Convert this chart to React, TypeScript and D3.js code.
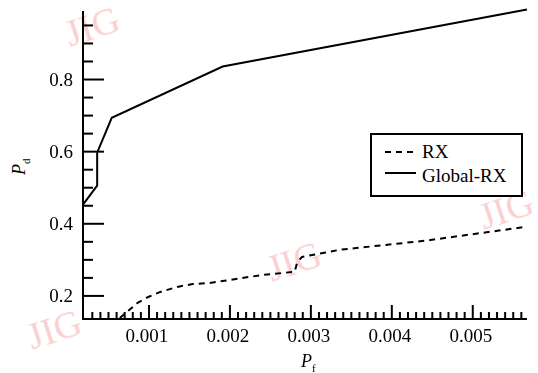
import React from "react";
import * as d3 from "d3";

// Pf (x) / Pd (y)
const rxPf = [0.00064, 0.00073, 0.00086, 0.00099, 0.00114, 0.00135, 0.00154, 0.00175, 0.0024, 0.0028, 0.00283, 0.00289, 0.00336, 0.00441, 0.00567];
const rxPd = [0.139, 0.156, 0.181, 0.197, 0.211, 0.225, 0.233, 0.236, 0.258, 0.267, 0.292, 0.308, 0.328, 0.353, 0.392];
const globalPf = [0.000185, 0.00036, 0.00036, 0.00054, 0.00191, 0.00567];
const globalPd = [0.453, 0.506, 0.597, 0.694, 0.836, 0.994];

const xMajor = [0.001, 0.002, 0.003, 0.004, 0.005];
const yMajor = [0.2, 0.4, 0.6, 0.8];
const xMinor = d3.range(3, 57).map((i) => i / 10000).filter((v) => Math.round(v * 10000) % 10 !== 0);
const yMinor = [0.25, 0.3, 0.35, 0.45, 0.5, 0.55, 0.65, 0.7, 0.75, 0.85, 0.9, 0.95];

const legendItems = [
  { name: "RX", dash: "6,5" },
  { name: "Global-RX", dash: null },
];

const W = 538, H = 373;
const left = 83, right = 527, top = 11, bottom = 319;
const font = "Liberation Serif";

export default function App() {
  const x = d3.scaleLinear().domain([0.000185, 0.00567]).range([left, right]);
  const y = d3.scaleLinear().domain([0.136, 0.99]).range([bottom, top]);
  const line = d3
    .line<[number, number]>()
    .x((d) => x(d[0]))
    .y((d) => y(d[1]));
  const rx = rxPf.map((v, i) => [v, rxPd[i]] as [number, number]);
  const gl = globalPf.map((v, i) => [v, globalPd[i]] as [number, number]);

  return (
    <svg width={W} height={H} style={{ position: "absolute", left: 0, top: 0, background: "#fff" }}>
      {/* watermarks */}
      <g fill="#f9c4c4" fontSize={38} opacity={0.8} fontFamily={font}>
        <text transform="translate(70,47) rotate(-18)">JIG</text>
        <text transform="translate(32,350) rotate(-18)">JIG</text>
        <text transform="translate(272,282) rotate(-18)">JIG</text>
        <text transform="translate(484,230) rotate(-18)">JIG</text>
      </g>

      <path d={line(gl) || ""} fill="none" stroke="#000" strokeWidth={2} />
      <path d={line(rx) || ""} fill="none" stroke="#000" strokeWidth={2} strokeDasharray="6,5" />

      {/* axes */}
      <g stroke="#000" strokeWidth={2}>
        <line x1={left} x2={left} y1={top} y2={bottom + 1} />
        <line x1={left - 1} x2={right} y1={bottom} y2={bottom} />
        {yMajor.map((v) => (
          <line key={"ym" + v} x1={left} x2={left + 21} y1={y(v)} y2={y(v)} />
        ))}
        {yMinor.map((v) => (
          <line key={"yn" + v} x1={left} x2={left + 10} y1={y(v)} y2={y(v)} />
        ))}
        {xMajor.map((v) => (
          <line key={"xm" + v} x1={x(v)} x2={x(v)} y1={bottom} y2={bottom - 14} />
        ))}
        {xMinor.map((v) => (
          <line key={"xn" + v} x1={x(v)} x2={x(v)} y1={bottom} y2={bottom - 7} />
        ))}
      </g>

      {yMajor.map((v) => (
        <text key={"yl" + v} x={73} y={y(v) + 6} textAnchor="end" fontFamily={font} fontSize={19}>
          {d3.format(".1f")(v)}
        </text>
      ))}
      {xMajor.map((v) => (
        <text key={"xl" + v} x={x(v) - 2} y={342} textAnchor="middle" fontFamily={font} fontSize={19}>
          {d3.format(".3f")(v)}
        </text>
      ))}

      {/* axis titles */}
      <text x={301} y={367} fontSize={18} fontStyle="italic" fontFamily={font}>
        P<tspan fontSize={11} fontStyle="normal" dy={5}>f</tspan>
      </text>
      <text transform="translate(25,175) rotate(-90)" fontSize={18} fontStyle="italic" fontFamily={font}>
        P<tspan fontSize={11} fontStyle="normal" dy={5}>d</tspan>
      </text>

      {/* legend */}
      <rect x={371} y={134} width={151} height={62} fill="#fff" stroke="#000" strokeWidth={2} />
      {legendItems.map((d, i) => (
        <g key={d.name}>
          <line
            x1={385}
            x2={416}
            y1={152 + i * 21}
            y2={152 + i * 21}
            stroke="#000"
            strokeWidth={2}
            strokeDasharray={d.dash || undefined}
          />
          <text x={422} y={158 + i * 24} fontSize={19} fontFamily={font}>
            {d.name}
          </text>
        </g>
      ))}
    </svg>
  );
}
